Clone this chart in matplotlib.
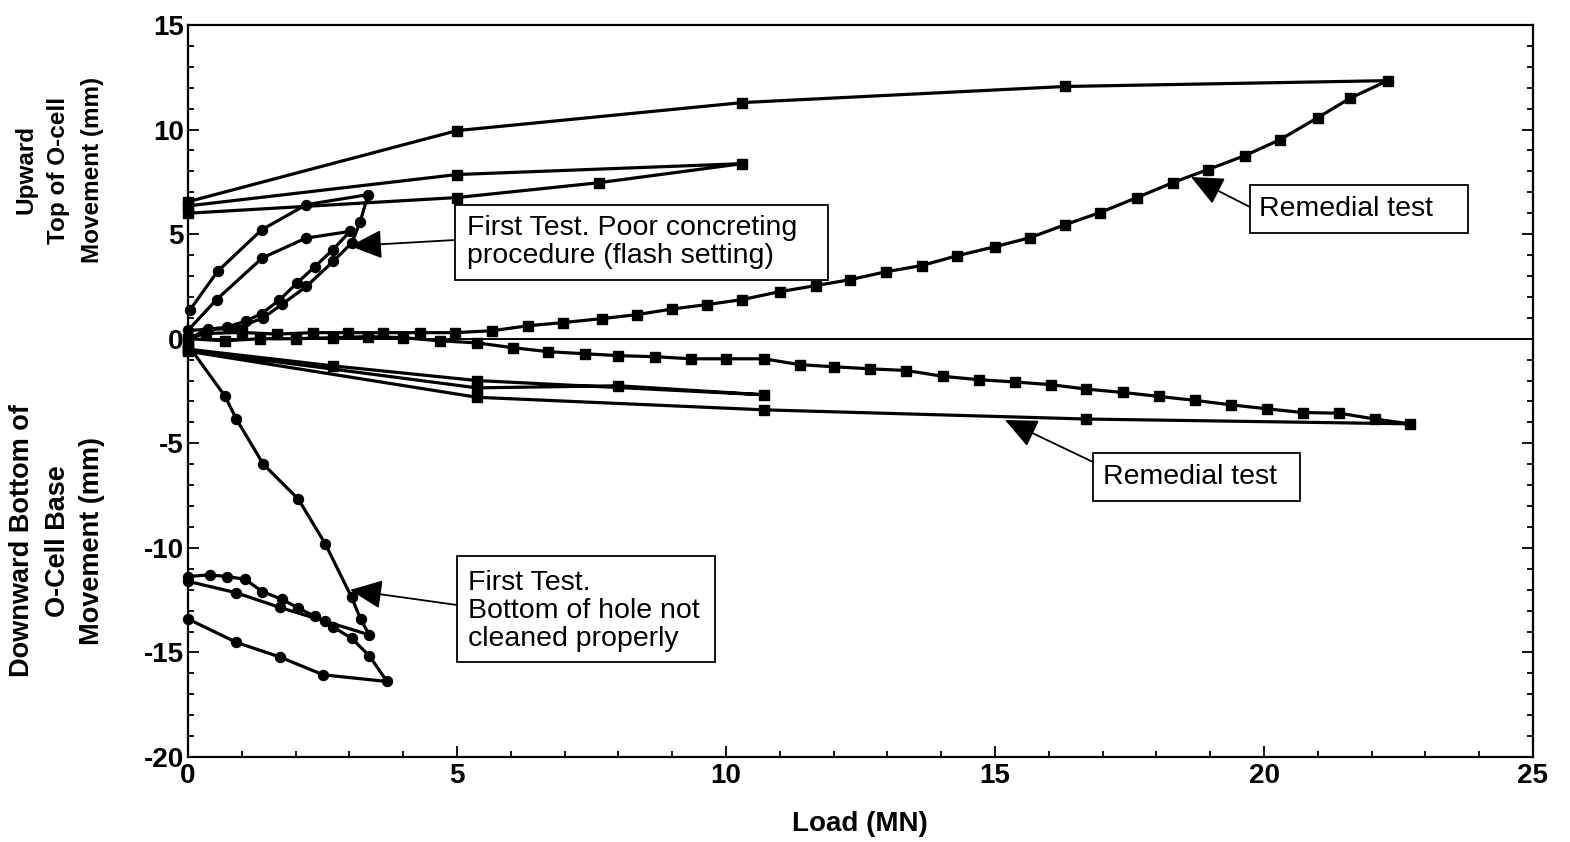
import matplotlib
matplotlib.use("Agg")
import matplotlib.pyplot as plt
from matplotlib.patches import Rectangle

# ---------------- data ----------------
# Remedial test, upward (top of O-cell), squares
rem_up_load = [0.0, 0.33, 1.0, 1.65, 2.32, 2.97, 3.62, 4.31, 4.96, 5.65, 6.32, 6.97, 7.69, 8.34,
               9.0, 9.64, 10.3, 11.0, 11.67, 12.3, 12.97, 13.64, 14.3, 15.0, 15.65, 16.3, 16.95,
               17.64, 18.3, 18.96, 19.65, 20.3, 21.0, 21.6, 22.3,
               16.3, 10.3, 5.0, 0.0,
               0.0, 5.0, 10.3, 7.64, 5.0, 0.0]
rem_up_mov = [0.0, 0.25, 0.3, 0.22, 0.29, 0.29, 0.29, 0.29, 0.29, 0.38, 0.62, 0.77, 0.96, 1.15,
              1.42, 1.63, 1.87, 2.25, 2.54, 2.82, 3.2, 3.5, 3.97, 4.4, 4.83, 5.45, 6.03,
              6.75, 7.46, 8.09, 8.76, 9.52, 10.57, 11.5, 12.34,
              12.06, 11.29, 9.95, 6.55,
              6.35, 7.85, 8.37, 7.46, 6.75, 6.0]

# Remedial test, downward (bottom of O-cell base), squares
rem_dn_load = [0.0, 0.69, 1.34, 2.0, 2.7, 3.35, 4.0, 4.68, 5.37, 6.04, 6.7, 7.38, 8.0, 8.68,
               9.35, 10.0, 10.7, 11.37, 12.0, 12.68, 13.35, 14.04, 14.7, 15.38, 16.05, 16.7,
               17.38, 18.05, 18.72, 19.38, 20.05, 20.72, 21.4, 22.06, 22.71,
               16.7, 10.7, 5.37, 0.0,
               0.0, 2.7, 5.37, 10.7, 8.0, 5.37, 0.0]
rem_dn_mov = [0.0, -0.1, 0.0, 0.0, 0.05, 0.1, 0.05, -0.1, -0.2, -0.43, -0.62, -0.72, -0.81, -0.86,
              -0.96, -0.96, -0.96, -1.24, -1.34, -1.44, -1.52, -1.8, -1.96, -2.07, -2.2, -2.41,
              -2.57, -2.76, -2.95, -3.16, -3.35, -3.53, -3.56, -3.84, -4.07,
              -3.84, -3.4, -2.8, -0.6,
              -0.5, -1.3, -2.0, -2.68, -2.25, -2.35, -0.55]

# First test, upward, circles
ft_up_load = [0.0, 0.37, 0.72, 1.08, 1.37, 1.7, 2.02, 2.36, 2.69, 3.01,
              2.19, 1.38, 0.53, 0.0,
              0.9, 1.4, 1.75, 2.2, 2.7, 3.05, 3.2, 3.35,
              2.2, 1.37, 0.55, 0.04]
ft_up_mov = [0.0, 0.45, 0.55, 0.85, 1.2, 1.85, 2.65, 3.45, 4.25, 5.13,
             4.81, 3.86, 1.87, 0.4,
             0.5, 1.0, 1.65, 2.5, 3.7, 4.6, 5.6, 6.89,
             6.41, 5.21, 3.22, 1.39]

# First test, downward, circles
ft_dn_load = [0.0, 0.69, 0.9, 1.4, 2.05, 2.55, 3.04, 3.21, 3.37,
              1.71, 0.9, 0.0,
              0.0, 0.4, 0.72, 1.06, 1.38, 1.74, 2.05, 2.36, 2.55, 2.7, 3.04, 3.37, 3.7,
              2.51, 1.71, 0.9, 0.0]
ft_dn_mov = [-0.3, -2.76, -3.85, -6.0, -7.67, -9.8, -12.36, -13.41, -14.16,
             -12.85, -12.15, -11.6,
             -11.37, -11.29, -11.37, -11.5, -12.09, -12.45, -12.88, -13.28, -13.52, -13.79, -14.32, -15.16, -16.39,
             -16.07, -15.22, -14.52, -13.4]

x_ticks = [0, 5, 10, 15, 20, 25]
y_ticks = [15, 10, 5, 0, -5, -10, -15, -20]

ann_first_up = "First Test. Poor concreting\nprocedure (flash setting)"
ann_remedial = "Remedial test"
ann_first_dn = "First Test.\nBottom of hole not\ncleaned properly"

# ---------------- figure ----------------
W, H = 1570, 842
fig = plt.figure(figsize=(W / 100, H / 100), dpi=100)
L, R, T, B = 188, 1533, 25, 757
ax = fig.add_axes([L / W, 1 - B / H, (R - L) / W, (B - T) / H])
ax.set_xlim(0, 25)
ax.set_ylim(-20, 15)

def P(px, py):
    """pixel -> data coordinates (for annotation placement only)"""
    return (px - L) / (R - L) * 25, 15 - (py - T) / (B - T) * 35

lw = 2.3
ax.plot(rem_up_load, rem_up_mov, color="black", lw=lw, marker="s", ms=6.8, zorder=3, clip_on=False)
ax.plot(rem_dn_load, rem_dn_mov, color="black", lw=lw, marker="s", ms=6.8, zorder=3, clip_on=False)
ax.plot(ft_up_load, ft_up_mov, color="black", lw=lw, marker="o", ms=7.2, zorder=3, clip_on=False)
ax.plot(ft_dn_load, ft_dn_mov, color="black", lw=lw, marker="o", ms=7.2, zorder=3, clip_on=False)
ax.axhline(0, color="black", lw=1.4, zorder=2)

# ticks
FONT = "Liberation Sans"
ax.set_xticks(x_ticks)
ax.set_yticks(y_ticks)
ax.set_xticks([i for i in range(26)], minor=True)
ax.set_yticks([i for i in range(-20, 16)], minor=True)
ax.tick_params(which="both", direction="in", right=True, top=False, width=1.3)
ax.tick_params(which="major", length=8)
ax.tick_params(which="minor", length=4.5)
ax.tick_params(axis="x", pad=4)
ax.tick_params(axis="y", pad=3)
ax.set_xticklabels([str(v) for v in x_ticks], fontsize=20, fontweight="bold", family=FONT)
ax.set_yticklabels([str(v) for v in y_ticks], fontsize=20, fontweight="bold", family=FONT)
for s in ax.spines.values():
    s.set_linewidth(1.6)

fig.text(860 / W, 1 - 824 / H, "Load (MN)", ha="center", va="center",
         fontsize=20, fontweight="bold", family=FONT)

ylab_up = ["Upward", "Top of O-cell", "Movement (mm)"]
ylab_dn = ["Downward Bottom of", "O-Cell Base", "Movement (mm)"]
for xpx, txt in zip([26, 59, 92], ylab_up):
    fig.text(xpx / W, 1 - 170 / H, txt, rotation=90, ha="center", va="center",
             fontsize=17.5, fontweight="bold", family=FONT)
for xpx, txt in zip([22, 58, 92], ylab_dn):
    fig.text(xpx / W, 1 - 541 / H, txt, rotation=90, ha="center", va="center",
             fontsize=19.5, fontweight="bold", family=FONT)

# annotation boxes
def box(x0, y0, x1, y1):
    a = P(x0, y1)
    b = P(x1, y0)
    ax.add_patch(Rectangle(a, b[0] - a[0], b[1] - a[1], fc="white", ec="black", lw=1.3, zorder=5))

def arrow(x0, y0, x1, y1):
    ax.annotate("", xy=P(x1, y1), xytext=P(x0, y0),
                arrowprops=dict(arrowstyle="-|>,head_length=1.0,head_width=0.45", lw=1.3,
                                color="black", mutation_scale=20, shrinkA=0, shrinkB=0), zorder=6)

def text(px, py, s):
    ax.text(*P(px, py), s, ha="left", va="center", fontsize=20.5, family=FONT,
            zorder=7, linespacing=1.1)

box(455, 205, 828, 280)
text(467, 242, ann_first_up)
arrow(455, 240, 350, 246)

box(1250, 185, 1468, 233)
text(1259, 209, ann_remedial)
arrow(1250, 207, 1191, 177)

box(1093, 453, 1300, 501)
text(1103, 477, ann_remedial)
arrow(1093, 462, 1005, 420)

box(457, 556, 715, 662)
text(468, 611, ann_first_dn)
arrow(457, 605, 350, 590)

fig.savefig("out.png", dpi=100)
